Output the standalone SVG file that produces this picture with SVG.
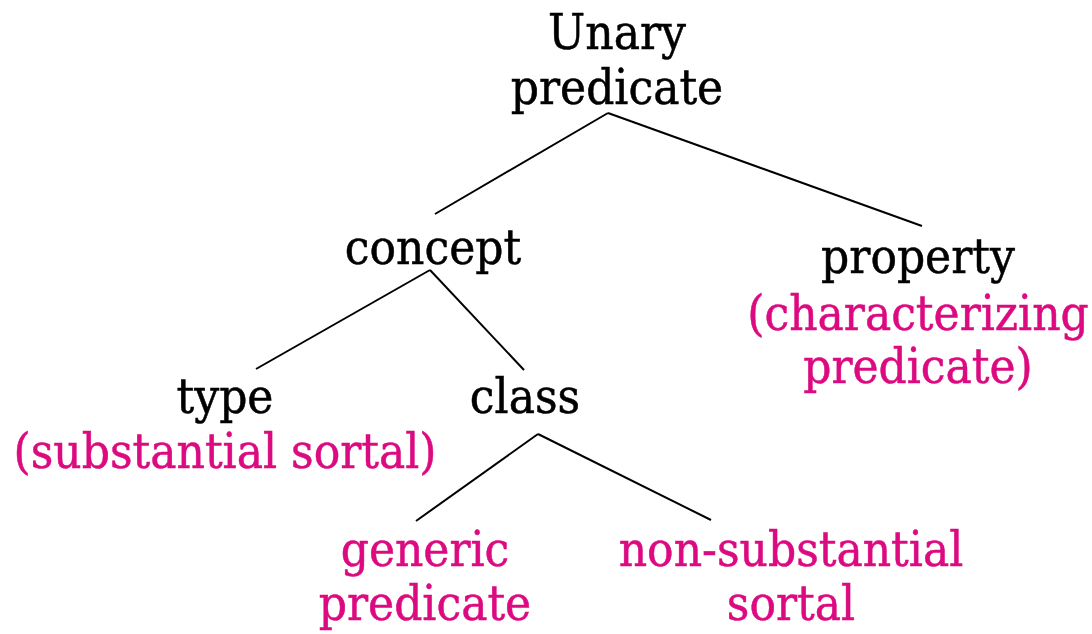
<svg xmlns="http://www.w3.org/2000/svg" width="1092" height="634" viewBox="0 0 1092 634">
  <style>
    text { font-family: "DejaVu Serif Condensed", "DejaVu Serif", "Liberation Serif", serif; font-stretch: condensed; font-size: 49px; text-anchor: middle; stroke-width: 0.5; }
    .term { fill: #000000; stroke: #000000; }
    .gloss { fill: #DC0A80; stroke: #DC0A80; }
    .edge { stroke: #000000; stroke-width: 2; fill: none; }
  </style>
  <rect width="1092" height="634" fill="#ffffff"/>
  <g id="connectors">
    <line class="edge" x1="608" y1="113" x2="435" y2="214"/>
    <line class="edge" x1="608" y1="113" x2="922" y2="226"/>
    <line class="edge" x1="430" y1="270" x2="256" y2="369"/>
    <line class="edge" x1="430" y1="270" x2="524" y2="370"/>
    <line class="edge" x1="538" y1="434" x2="416" y2="521"/>
    <line class="edge" x1="538" y1="434" x2="711" y2="520"/>
  </g>
  <g id="unary-predicate">
    <text class="term" x="617" y="49">Unary</text>
    <text class="term" x="617" y="104">predicate</text>
  </g>
  <g id="concept">
    <text class="term" x="433" y="264">concept</text>
  </g>
  <g id="property">
    <text class="term" x="918" y="273">property</text>
    <text class="gloss" x="918" y="330">(characterizing</text>
    <text class="gloss" x="918" y="383">predicate)</text>
  </g>
  <g id="type">
    <text class="term" x="225" y="413">type</text>
    <text class="gloss" x="225" y="468">(substantial sortal)</text>
  </g>
  <g id="class">
    <text class="term" x="525" y="413">class</text>
  </g>
  <g id="generic-predicate">
    <text class="gloss" x="425" y="566">generic</text>
    <text class="gloss" x="425" y="620">predicate</text>
  </g>
  <g id="non-substantial-sortal">
    <text class="gloss" x="791" y="566">non-substantial</text>
    <text class="gloss" x="791" y="620">sortal</text>
  </g>
</svg>
